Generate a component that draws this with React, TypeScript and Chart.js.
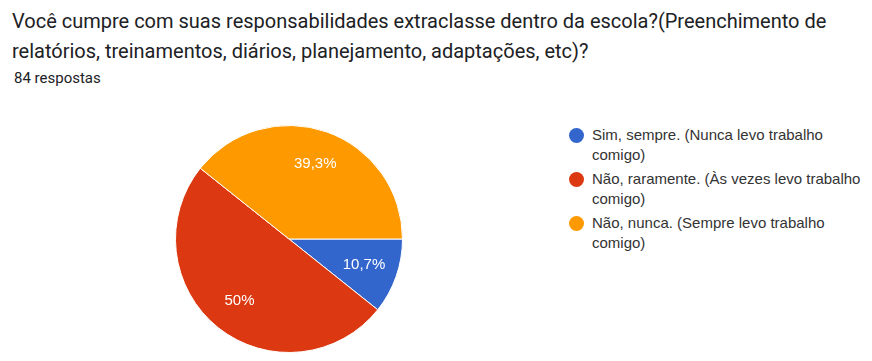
import React, { useEffect, useRef } from "react";
import { Chart, registerables } from "chart.js";

Chart.register(...registerables);

const titleLines = [
  "Você cumpre com suas responsabilidades extraclasse dentro da escola?(Preenchimento de",
  "relatórios, treinamentos, diários, planejamento, adaptações, etc)?",
];
const subtitle = "84 respostas";
const categories = [
  ["Sim, sempre. (Nunca levo trabalho", "comigo)"],
  ["Não, raramente. (Às vezes levo trabalho", "comigo)"],
  ["Não, nunca. (Sempre levo trabalho", "comigo)"],
];
const counts = [9, 42, 33];
const percentLabels = ["10,7%", "50%", "39,3%"];
const colors = ["#3366cc", "#dc3912", "#ff9900"];

const labelPlugin = {
  id: "sliceLabels",
  afterDatasetsDraw(chart: any) {
    const ctx = chart.ctx;
    const meta = chart.getDatasetMeta(0);
    ctx.save();
    ctx.fillStyle = "#ffffff";
    ctx.font = '15px "Liberation Sans", Arial, sans-serif';
    ctx.textAlign = "center";
    ctx.textBaseline = "middle";
    meta.data.forEach((arc: any, i: number) => {
      const { x, y, startAngle, endAngle, outerRadius } = arc.getProps(
        ["x", "y", "startAngle", "endAngle", "outerRadius"],
        true
      );
      const mid = (startAngle + endAngle) / 2;
      const r = outerRadius * 0.7;
      ctx.fillText(percentLabels[i], x + Math.cos(mid) * r, y + Math.sin(mid) * r);
    });
    ctx.restore();
  },
};

export default function App() {
  const ref = useRef<HTMLCanvasElement | null>(null);
  useEffect(() => {
    document.body.style.margin = "0";
    const chart = new Chart(ref.current!, {
      type: "pie",
      data: {
        labels: categories.map((c) => c.join(" ")),
        datasets: [
          {
            data: counts,
            backgroundColor: colors,
            borderColor: "#ffffff",
            borderWidth: 1,
          },
        ],
      },
      options: {
        animation: false,
        responsive: false,
        rotation: 90,
        layout: { padding: 0 },
        plugins: {
          legend: { display: false },
          tooltip: { enabled: false },
        },
      },
      plugins: [labelPlugin],
    });
    return () => chart.destroy();
  }, []);

  return (
    <div
      style={{
        position: "relative",
        width: 872,
        height: 361,
        background: "#ffffff",
        overflow: "hidden",
      }}
    >
      <div
        style={{
          position: "absolute",
          left: 12,
          top: 6,
          fontFamily: "Roboto, sans-serif",
          fontSize: 20,
          lineHeight: "30px",
          color: "#202124",
          whiteSpace: "nowrap",
        }}
      >
        {titleLines.map((t, i) => (
          <div key={i}>{t}</div>
        ))}
      </div>
      <div
        style={{
          position: "absolute",
          left: 14,
          top: 68,
          fontFamily: "Roboto, sans-serif",
          fontSize: 15,
          lineHeight: "20px",
          color: "#202124",
        }}
      >
        {subtitle}
      </div>
      <canvas
        ref={ref}
        width={228}
        height={228}
        style={{ position: "absolute", left: 175, top: 125, width: 228, height: 228 }}
      />
      <div
        style={{
          position: "absolute",
          left: 569,
          top: 125,
          fontFamily: '"Liberation Sans", Arial, sans-serif',
          fontSize: 15,
          color: "#333333",
        }}
      >
        {categories.map((c, i) => (
          <div key={i} style={{ position: "relative", paddingLeft: 23, marginBottom: 5, lineHeight: "19.5px" }}>
            <span
              style={{
                position: "absolute",
                left: 0,
                top: 3,
                width: 15,
                height: 15,
                borderRadius: 8,
                background: colors[i],
              }}
            />
            {c.map((l, j) => (
              <div key={j}>{l}</div>
            ))}
          </div>
        ))}
      </div>
    </div>
  );
}
